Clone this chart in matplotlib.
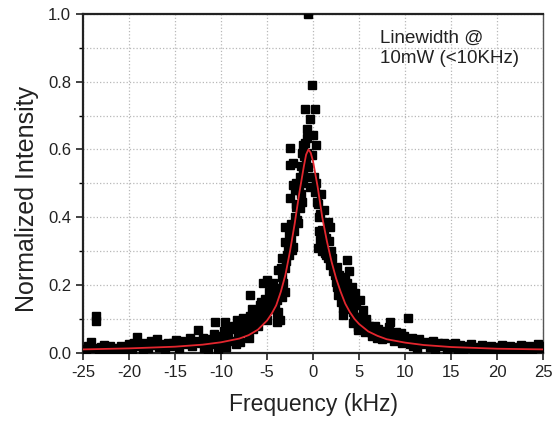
import matplotlib
matplotlib.use('Agg')
import matplotlib.pyplot as plt
import numpy as np

plt.rcParams['font.family'] = ['Liberation Sans', 'DejaVu Sans']
plt.rcParams['axes.unicode_minus'] = False

freq_tail_l = [-25.0, -24.7, -24.4, -24.1, -23.8, -23.6, -23.6, -23.3, -23.0, -22.7,
               -22.4, -22.1, -21.8, -21.5, -21.2, -20.9, -20.6, -20.3, -20.0, -19.7,
               -19.4, -19.1, -18.8, -18.5, -18.2, -17.9, -17.6, -17.3, -17.0, -16.7,
               -16.4, -16.1, -15.8, -15.5, -15.2, -14.9, -14.6, -14.3, -14.0, -13.7,
               -13.4, -13.1, -12.8, -12.5, -12.2]
int_tail_l = [0.012, 0.008, 0.020, 0.032, 0.015, 0.110, 0.095, 0.010, 0.018, 0.022,
              0.012, 0.020, 0.008, 0.015, 0.010, 0.020, 0.012, 0.018, 0.025, 0.010,
              0.030, 0.048, 0.020, 0.012, 0.028, 0.015, 0.035, 0.022, 0.040, 0.018,
              0.025, 0.012, 0.030, 0.020, 0.028, 0.038, 0.015, 0.035, 0.025, 0.030,
              0.045, 0.020, 0.035, 0.068, 0.030]

freq_wing_l = [-12.0, -11.8, -11.6, -11.4, -11.2, -11.0, -10.8, -10.7, -10.5, -10.3,
               -10.1, -9.9, -9.7, -9.6, -9.4, -9.2, -9.0, -8.8, -8.6, -8.4,
               -8.3, -8.1, -7.9, -7.8, -7.6, -7.4, -7.2, -7.0, -6.9, -6.8,
               -6.6, -6.5, -6.3, -6.1, -6.0, -5.8, -5.6, -5.4, -5.4, -5.2,
               -5.0, -5.0, -4.8, -4.6, -4.4, -4.3, -4.1, -3.9, -3.9, -3.9,
               -3.8, -3.8, -3.6, -3.4, -3.4, -3.3, -3.1]
int_wing_l = [0.045, 0.015, 0.030, 0.008, 0.040, 0.025, 0.055, 0.090, 0.035, 0.012,
              0.050, 0.030, 0.065, 0.090, 0.018, 0.045, 0.070, 0.035, 0.080, 0.025,
              0.097, 0.055, 0.032, 0.075, 0.103, 0.060, 0.085, 0.045, 0.170, 0.110,
              0.130, 0.070, 0.095, 0.120, 0.080, 0.140, 0.105, 0.206, 0.127, 0.160,
              0.215, 0.097, 0.180, 0.130, 0.150, 0.206, 0.133, 0.156, 0.118, 0.090,
              0.245, 0.120, 0.097, 0.165, 0.224, 0.206, 0.180]

freq_peak = [-3.4, -3.0, -3.0, -3.0, -2.8, -2.6, -2.5, -2.5, -2.5, -2.4,
             -2.3, -2.2, -2.2, -2.2, -2.0, -2.0, -1.8, -1.7, -1.6, -1.4,
             -1.3, -1.2, -1.2, -1.1, -1.1, -1.1, -0.9, -0.8, -0.65, -0.65,
             -0.6, -0.5, -0.4, -0.3, -0.3, -0.1, -0.1, 0.0, 0.2, 0.2]
int_peak = [0.280, 0.250, 0.327, 0.370, 0.290, 0.350, 0.457, 0.605, 0.555, 0.340,
            0.304, 0.313, 0.496, 0.560, 0.480, 0.400, 0.430, 0.392, 0.383, 0.428,
            0.470, 0.445, 0.590, 0.500, 0.531, 0.613, 0.720, 0.560, 0.660, 0.634,
            1.000, 0.549, 0.520, 0.690, 0.490, 0.584, 0.790, 0.643, 0.720, 0.475]

freq_core = [-7.3, -6.8, -6.2, -5.6, -5.2, -4.9, -4.5, -4.2, -3.6, -3.5,
             -2.9, -2.7, -2.6, -2.4, -2.1, -1.9, -1.8, -1.5, -1.4, -1.3,
             -1.0, -0.9, -0.7, 0.1, 0.3, 0.5, 0.6, 0.8, 1.0, 1.2,
             1.4, 1.7, 1.8, 2.1, 2.3, 2.5, 2.8, 3.0, 3.3, 3.4,
             3.8, 4.0, 4.4, 4.7, 5.2, 5.5, 5.7, 6.1, 6.3, 7.0,
             7.8]
int_core = [0.070, 0.075, 0.090, 0.150, 0.120, 0.140, 0.190, 0.170, 0.190, 0.250,
            0.270, 0.310, 0.290, 0.380, 0.360, 0.440, 0.500, 0.480, 0.520, 0.550,
            0.580, 0.620, 0.590, 0.520, 0.500, 0.440, 0.360, 0.410, 0.300, 0.350,
            0.290, 0.330, 0.260, 0.280, 0.250, 0.210, 0.230, 0.190, 0.170, 0.200,
            0.160, 0.130, 0.170, 0.140, 0.090, 0.070, 0.100, 0.080, 0.060, 0.060,
            0.050]

freq_wing_r = [0.3, 0.4, 0.5, 0.6, 0.76, 0.9, 1.0, 1.1, 1.2, 1.3,
               1.4, 1.6, 1.6, 1.85, 1.9, 2.0, 2.2, 2.4, 2.6, 2.6,
               2.7, 2.9, 3.0, 3.2, 3.2, 3.2, 3.5, 3.6, 3.7, 3.7,
               3.7, 3.9, 4.0, 4.1, 4.2, 4.2, 4.35, 4.35, 4.35, 4.5,
               4.6, 4.8, 4.8, 4.9, 4.9, 5.1, 5.1, 5.3, 5.4, 5.6]
int_wing_r = [0.613, 0.445, 0.310, 0.400, 0.333, 0.470, 0.363, 0.324, 0.420, 0.295,
              0.340, 0.386, 0.280, 0.372, 0.300, 0.268, 0.240, 0.230, 0.254, 0.195,
              0.171, 0.210, 0.150, 0.224, 0.133, 0.112, 0.221, 0.190, 0.206, 0.142,
              0.274, 0.240, 0.177, 0.160, 0.150, 0.195, 0.121, 0.088, 0.147, 0.100,
              0.177, 0.106, 0.091, 0.077, 0.068, 0.156, 0.106, 0.080, 0.127, 0.060]

freq_mid_r = [5.8, 6.0, 6.2, 6.4, 6.5, 6.7, 6.9, 7.1, 7.3, 7.5,
              7.7, 8.0, 8.2, 8.4, 8.6, 8.8, 9.0, 9.2, 9.5, 9.7,
              9.9, 10.2, 10.3, 10.5, 10.7, 10.9, 11.1, 11.3, 11.5, 11.8]
int_mid_r = [0.090, 0.065, 0.075, 0.050, 0.062, 0.080, 0.045, 0.070, 0.055, 0.040,
             0.065, 0.044, 0.075, 0.091, 0.050, 0.035, 0.060, 0.045, 0.059, 0.030,
             0.050, 0.038, 0.103, 0.025, 0.045, 0.020, 0.035, 0.015, 0.040, 0.025]

freq_tail_r = [12.0, 12.4, 12.7, 13.0, 13.3, 13.6, 13.9, 14.2, 14.5, 14.8,
               15.1, 15.4, 15.7, 16.0, 16.3, 16.6, 16.9, 17.2, 17.5, 17.8,
               18.1, 18.4, 18.7, 19.0, 19.3, 19.6, 19.9, 20.2, 20.5, 20.8,
               21.1, 21.4, 21.7, 22.0, 22.3, 22.6, 22.9, 23.2, 23.5, 23.8,
               24.1, 24.4, 24.7, 25.0]
int_tail_r = [0.030, 0.032, 0.018, 0.035, 0.012, 0.028, 0.020, 0.030, 0.010, 0.025,
              0.018, 0.030, 0.012, 0.022, 0.008, 0.020, 0.015, 0.025, 0.010, 0.018,
              0.012, 0.022, 0.008, 0.015, 0.020, 0.010, 0.018, 0.012, 0.022, 0.008,
              0.015, 0.020, 0.010, 0.018, 0.012, 0.022, 0.008, 0.015, 0.020, 0.012,
              0.018, 0.025, 0.015, 0.020]

# Lorentzian fit curve
fit_freq = [-25, -20, -15, -12, -10, -8, -7, -6, -5, -4.5, -4, -3.5, -3, -2.5, -2,
            -1.5, -1, -0.75, -0.5, -0.25, 0, 0.5, 1, 1.5, 2, 2.5, 3, 3.5, 4, 4.5,
            5, 6, 7, 8, 10, 12, 15, 20, 25]
fit_int = [0.010, 0.013, 0.018, 0.024, 0.031, 0.042, 0.052, 0.068, 0.095, 0.115,
           0.140, 0.180, 0.230, 0.300, 0.380, 0.470, 0.550, 0.585, 0.600, 0.590,
           0.565, 0.490, 0.400, 0.330, 0.270, 0.220, 0.180, 0.145, 0.120, 0.100,
           0.085, 0.063, 0.050, 0.040, 0.030, 0.023, 0.017, 0.012, 0.010]

freq = freq_tail_l + freq_wing_l + freq_peak + freq_core + freq_wing_r + freq_mid_r + freq_tail_r
intensity = int_tail_l + int_wing_l + int_peak + int_core + int_wing_r + int_mid_r + int_tail_r

fig = plt.figure(figsize=(5.6, 4.22), dpi=100)
ax = fig.add_axes([0.148, 0.164, 0.822, 0.803])

ax.plot(freq, intensity, ls='none', marker='s', ms=5.2, color='black', zorder=3)
ax.plot(fit_freq, fit_int, color='#e3262e', lw=1.3, zorder=4)

ax.set_xlim(-25, 25)
ax.set_ylim(0, 1.0)
ax.set_xticks(np.arange(-25, 26, 5))
ax.set_yticks(np.arange(0, 1.01, 0.2))
ax.set_yticks(np.arange(0.1, 1.0, 0.2), minor=True)
ax.set_yticklabels(['0.0', '0.2', '0.4', '0.6', '0.8', '1.0'])

ax.grid(True, which='both', axis='y', ls=':', color='#b8b8b8', lw=0.9)
ax.grid(True, which='major', axis='x', ls=':', color='#b8b8b8', lw=0.9)
ax.set_axisbelow(True)

ax.tick_params(axis='both', which='major', direction='out', length=5, width=1.2,
               labelsize=12, colors='#222222')
ax.tick_params(axis='y', which='minor', direction='out', length=3, width=1.0)

for s in ['left', 'bottom', 'top']:
    ax.spines[s].set_linewidth(1.6)
    ax.spines[s].set_color('#222222')
ax.spines['right'].set_linewidth(1.0)
ax.spines['right'].set_color('#555555')

ax.set_xlabel('Frequency (kHz)', fontsize=16.5, color='#222222', labelpad=10)
ax.set_ylabel('Normalized Intensity', fontsize=18, color='#222222')
ax.yaxis.set_label_coords(-0.095, 0.455)

ax.text(7.3, 0.953, 'Linewidth @\n10mW (<10KHz)', fontsize=13.5, color='#222222',
        va='top', ha='left', linespacing=1.25)

fig.savefig('out.png', dpi=100)
